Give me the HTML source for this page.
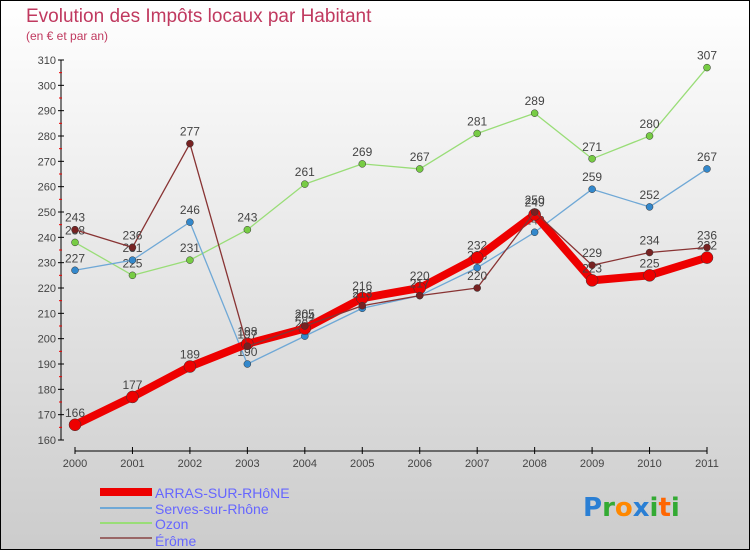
<!DOCTYPE html>
<html><head><meta charset="utf-8">
<style>
body{margin:0;}
#wrap{width:750px;height:550px;position:relative;overflow:hidden;font-family:"Liberation Sans",sans-serif;}
</style></head>
<body>
<div id="wrap">
<svg id="chart" width="750" height="550" xmlns="http://www.w3.org/2000/svg">
<defs>
<linearGradient id="bg" x1="0" y1="0" x2="0" y2="1">
<stop offset="0" stop-color="#ffffff"/><stop offset="1" stop-color="#cccccc"/>
</linearGradient>
</defs>
<rect x="0.5" y="0.5" width="749" height="549" fill="url(#bg)" stroke="#000"/>
<text x="26" y="22" font-size="19" fill="#c0395f">Evolution des Impôts locaux par Habitant</text>
<text x="26" y="40" font-size="12" fill="#c0395f">(en € et par an)</text>
<g id="axes"></g>
<g id="series"></g>
<g id="legend">
<rect x="100" y="488" width="52" height="8" fill="#ee0000"/>
<text x="155" y="498" font-size="14" fill="#6666ff">ARRAS-SUR-RHôNE</text>
<rect x="100" y="507" width="52" height="2" fill="#6fa8d6"/>
<text x="155" y="514" font-size="14" fill="#6666ff">Serves-sur-Rhône</text>
<rect x="100" y="522" width="52" height="2" fill="#99dd77"/>
<text x="155" y="529" font-size="14" fill="#6666ff">Ozon</text>
<rect x="100" y="537" width="52" height="2" fill="#996666"/>
<text x="155" y="546" font-size="14" fill="#6666ff">Érôme</text>
</g>
<g font-size="26" font-family="'DejaVu Sans',sans-serif" font-weight="bold">
<text x="583" y="516"><tspan fill="#2a7fd4">P</tspan><tspan fill="#33aa33">r</tspan><tspan fill="#ff8800">o</tspan><tspan fill="#2a7fd4">x</tspan><tspan fill="#33aa33">i</tspan><tspan fill="#ff6600">t</tspan><tspan fill="#33aa33">i</tspan></text>
</g>
</svg>
</div>
<script>
const years = ["2000","2001","2002","2003","2004","2005","2006","2007","2008","2009","2010","2011"];
const yTicks = [160,170,180,190,200,210,220,230,240,250,260,270,280,290,300,310];
const arras = [166,177,189,198,204,216,220,232,249,223,225,232];
const serves = [227,231,246,190,201,212,217,228,242,259,252,267];
const ozon = [238,225,231,243,261,269,267,281,289,271,280,307];
const erome = [243,236,277,197,205,213,217,220,250,229,234,236];

const NS="http://www.w3.org/2000/svg";
const x0=75,x1=707,yMin=160,yMax=310,yb=440,yt=60;
function xs(i){return x0+(x1-x0)*i/(years.length-1);}
function ys(v){return yb-(v-yMin)*(yb-yt)/(yMax-yMin);}
function mk(tag,attrs,parent){const e=document.createElementNS(NS,tag);for(const k in attrs)e.setAttribute(k,attrs[k]);parent.appendChild(e);return e;}
const axes=document.getElementById('axes');
const ya=mk('line',{x1:61,y1:yt,x2:61,y2:yb,stroke:'#000'},axes);


yTicks.forEach(t=>{
  const y=ys(t);
  mk('line',{x1:58,y1:y,x2:64,y2:y,stroke:'#000'},axes);
  if(t<yMax){mk('line',{x1:59,y1:ys(t+5),x2:62,y2:ys(t+5),stroke:'#e00'},axes);}
  const tx=mk('text',{x:56,y:y+4,'font-size':11,fill:'#444','text-anchor':'end'},axes);
  tx.textContent=t;
  
  
});
const xa=mk('line',{x1:x0,y1:451,x2:x1,y2:451,stroke:'#000'},axes);


years.forEach((yr,i)=>{
  mk('line',{x1:xs(i),y1:447,x2:xs(i),y2:454,stroke:'#000'},axes);
  const tx=mk('text',{x:xs(i),y:467,'font-size':11,fill:'#444','text-anchor':'middle'},axes);
  tx.textContent=yr;
  
  
});
const sg=document.getElementById('series');
function draw(vals,name,color,w,r,dot){
  const g=mk('g',{},sg);
  
  
  const pts=vals.map((v,i)=>xs(i)+','+ys(v)).join(' ');
  const pl=mk('polyline',{points:pts,fill:'none',stroke:color,'stroke-width':w,'stroke-linejoin':'round'},g);
  
  
  vals.forEach((v,i)=>{
    const c=mk('circle',{cx:xs(i),cy:ys(v),r:r,fill:dot,stroke:'#333','stroke-width':0.5},g);
    
    
    const t=mk('text',{x:xs(i),y:ys(v)-8,'font-size':12,fill:'#444','text-anchor':'middle'},g);
    t.textContent=v;
    
    
  });
}
draw(ozon,'ozon','#99dd77',1.3,3.5,'#77cc44');
draw(serves,'serves','#6fa8d6',1.3,3.5,'#3388cc');
draw(arras,'arras','#ee0000',8,6,'#ee0000');
draw(erome,'erome','#883333',1.3,3.5,'#772222');
</script>
</body></html>
